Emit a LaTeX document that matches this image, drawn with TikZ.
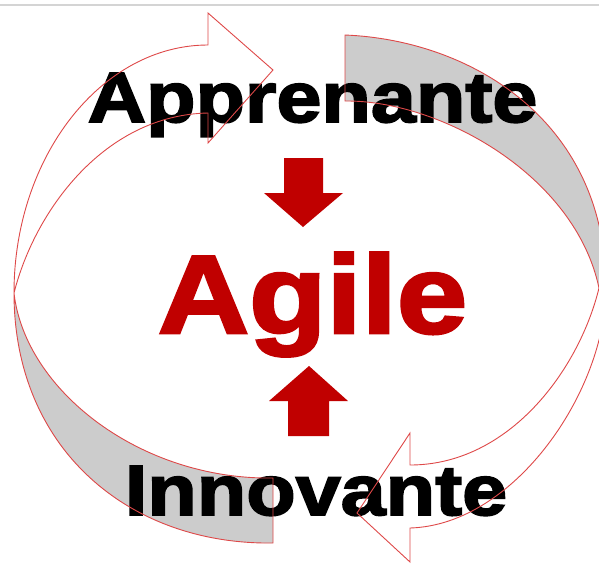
\documentclass[tikz,border=0pt]{standalone}
\usepackage{fontspec}
\setmainfont{Liberation Sans}
\newfontfamily\heavyfont{Liberation Sans Bold}[FakeStretch=1.14,FakeBold=2.6]
\usepackage{tikz}
\usetikzlibrary{positioning}
\definecolor{agilered}{RGB}{192,0,0}
\definecolor{ribbonred}{RGB}{222,72,72}
\definecolor{ribbongray}{RGB}{204,204,204}

\begin{document}
\begin{tikzpicture}[
    x=1pt, y=-1pt,
    ribbon/.style={draw=ribbonred, line width=0.9pt, line join=miter},
    backside/.style={fill=ribbongray},
    word/.style={font=\heavyfont\fontsize{71}{80}\selectfont, anchor=base, inner sep=0pt},
    blockarrow/.style={fill=agilered}
]
    \useasboundingbox (0,0) rectangle (599,563);
    \draw[black!17, line width=2pt] (0,5) -- (599,5);

    % back side of both ribbons
    \path[backside] (345,35) .. controls (470,40) and (606,120) .. (606,288) -- (599,288)
        .. controls (575,175) and (440,100) .. (345,101) -- cycle;
    \path[backside] (273,543) .. controls (130,545) and (14,450) .. (14,293)
        .. controls (25,390) and (140,480) .. (273,478) -- cycle;

    \node[word] (learn) at (312.5,122) {Apprenante};
    \node[word, text=agilered, font=\heavyfont\fontsize{111}{120}\selectfont] (agile) at (312.5,333) {Agile};
    \node[word] (innov) at (316,515) {Innovante};

    \path[blockarrow] (284,158) -- (323,158) -- (323,193) -- (343,193) -- (303,227) -- (264,193) -- (284,193) -- cycle;
    \path[blockarrow] (309,366) -- (348,401) -- (329,401) -- (329,436) -- (288,436) -- (288,401) -- (269,401) -- cycle;

    % outlines
    \draw[ribbon] (345,35) .. controls (470,40) and (606,120) .. (606,288)
        .. controls (606,390) and (515,525) .. (410,528) -- (410,562) -- (357,513) -- (410,433) -- (410,465)
        .. controls (509,465) and (579,370) .. (599,288)
        .. controls (575,175) and (440,100) .. (345,101) -- cycle;
    \draw[ribbon] (273,543) .. controls (130,545) and (14,450) .. (14,293)
        .. controls (14,156) and (102,45) .. (208,45) -- (208,13) -- (273,70) -- (208,143) -- (208,113)
        .. controls (105,115) and (35,210) .. (14,293)
        .. controls (25,390) and (140,480) .. (273,478) -- cycle;
\end{tikzpicture}
\end{document}
